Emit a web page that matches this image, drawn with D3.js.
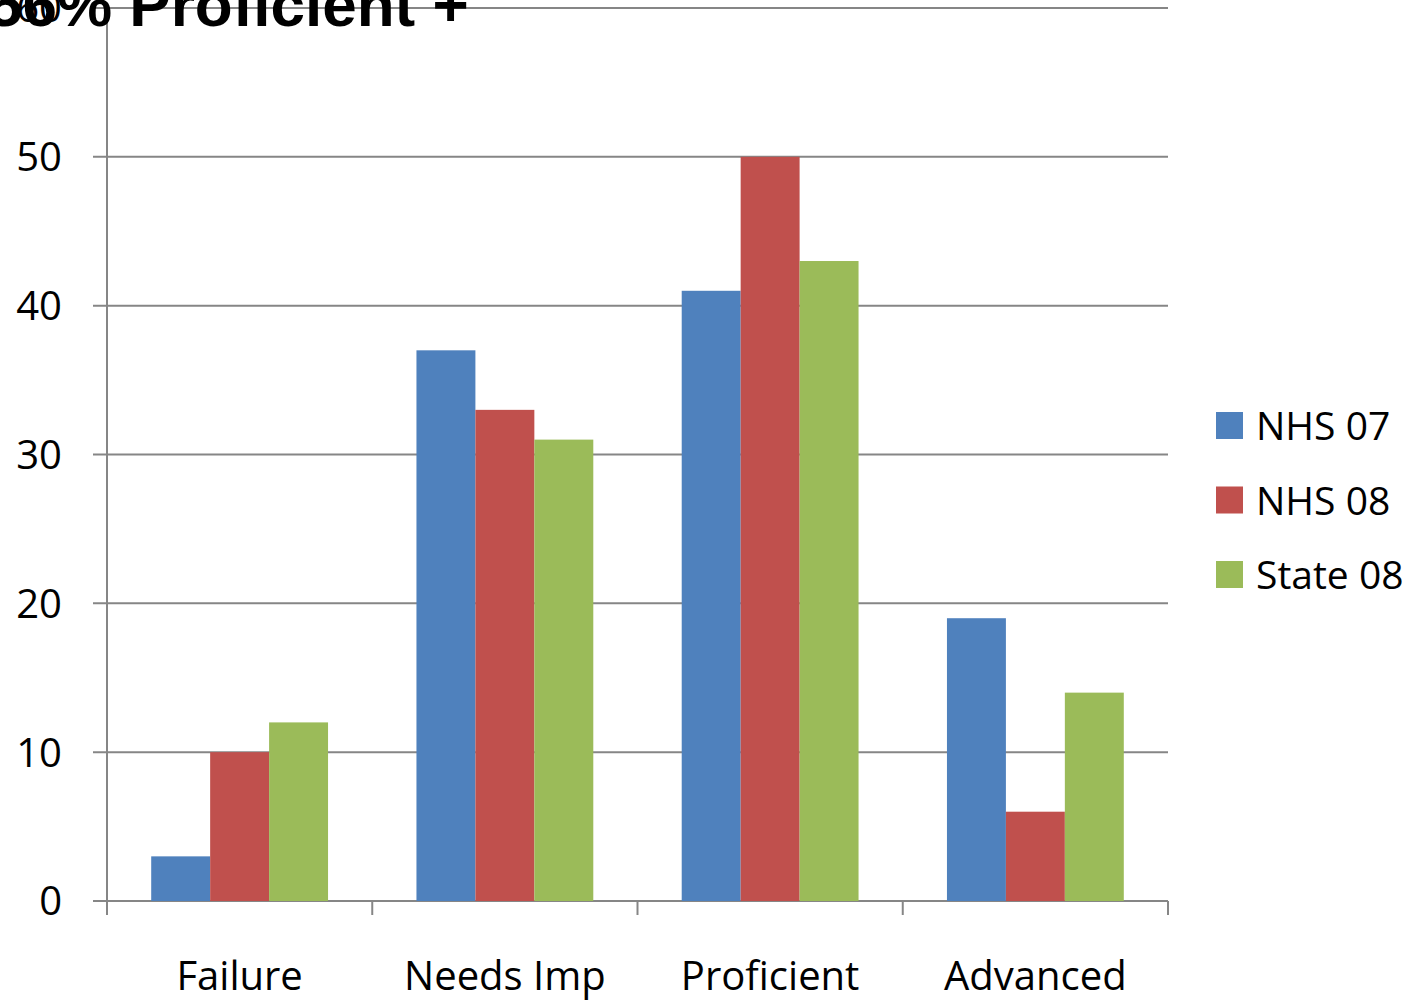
<!DOCTYPE html>
<html lang="en">
<head>
  <meta charset="UTF-8">
  <title>56% Proficient +</title>
  <script src="https://d3js.org/d3.v7.min.js"></script>
  <style>
    body { margin: 0; background: #fff; }
    text { font-family: "Open Sans", "Noto Sans", sans-serif; fill: #000; }
    .grid line { stroke: #868686; stroke-width: 2; }
    .title { font-family: "Liberation Sans", Arial, sans-serif; font-weight: bold; font-size: 62px; }
  </style>
</head>
<body>
  <svg id="chart" width="1418" height="1000"></svg>
  <script>
    const categories = ["Failure", "Needs Imp", "Proficient", "Advanced"];
    const seriesNames = ["NHS 07", "NHS 08", "State 08"];
    const nhs07 = [3, 37, 41, 19];
    const nhs08 = [10, 33, 50, 6];
    const state08 = [12, 31, 43, 14];
    const yTicks = [0, 10, 20, 30, 40, 50, 60];
    const colors = ["#4f81bd", "#c0504d", "#9bbb59"];

    const series = [nhs07, nhs08, state08];
    const svg = d3.select("#chart");
    const margin = {left: 107, right: 250, top: 8, bottom: 99};
    const W = 1418, H = 1000;

    const x = d3.scaleBand().domain(categories).range([margin.left, W - margin.right]);
    const y = d3.scaleLinear().domain([0, 60]).range([H - margin.bottom, margin.top]);
    const x1 = d3.scaleBand().domain(seriesNames).range([0, x.bandwidth()]).paddingOuter(0.75);

    // gridlines + y labels
    const g = svg.append("g").attr("class", "grid");
    g.selectAll("line.h").data(yTicks).join("line")
      .attr("x1", margin.left - 14).attr("x2", W - margin.right)
      .attr("y1", d => y(d)).attr("y2", d => y(d));
    svg.selectAll("text.ylab").data(yTicks).join("text")
      .attr("class", "ylab")
      .attr("x", 62).attr("y", d => y(d)).attr("dy", "0.36em")
      .attr("text-anchor", "end").style("font-size", "40px")
      .text(d => d);

    // bars
    categories.forEach((c, i) => {
      series.forEach((s, j) => {
        svg.append("rect")
          .attr("x", x(c) + x1(seriesNames[j]))
          .attr("width", x1.bandwidth())
          .attr("y", y(s[i]))
          .attr("height", y(0) - y(s[i]))
          .attr("fill", colors[j]);
      });
    });

    // axes lines
    g.append("line").attr("x1", margin.left).attr("x2", margin.left)
      .attr("y1", y(60)).attr("y2", y(0) + 14);
    g.append("line").attr("x1", margin.left).attr("x2", W - margin.right)
      .attr("y1", y(0)).attr("y2", y(0));
    const bounds = categories.map(c => x(c)).concat([x.range()[1]]);
    g.selectAll("line.xt").data(bounds).join("line")
      .attr("x1", d => d).attr("x2", d => d)
      .attr("y1", y(0)).attr("y2", y(0) + 14);

    svg.selectAll("text.xlab").data(categories).join("text")
      .attr("x", d => x(d) + x.bandwidth() / 2).attr("y", 990)
      .attr("text-anchor", "middle").style("font-size", "40px")
      .text(d => d);

    // legend
    const lg = svg.append("g").attr("transform", "translate(1216,412)");
    seriesNames.forEach((n, j) => {
      lg.append("rect").attr("x", 0).attr("y", j * 74.5).attr("width", 27).attr("height", 27).attr("fill", colors[j]);
      lg.append("text").attr("x", 40).attr("y", j * 74.5 + 14).attr("dy", "0.36em")
        .style("font-size", "39px").text(n);
    });

    // title (clipped at top as in original)
    svg.append("text").attr("class", "title").attr("x", -12).attr("y", 26).text("56% Proficient +");
  </script>
</body>
</html>
